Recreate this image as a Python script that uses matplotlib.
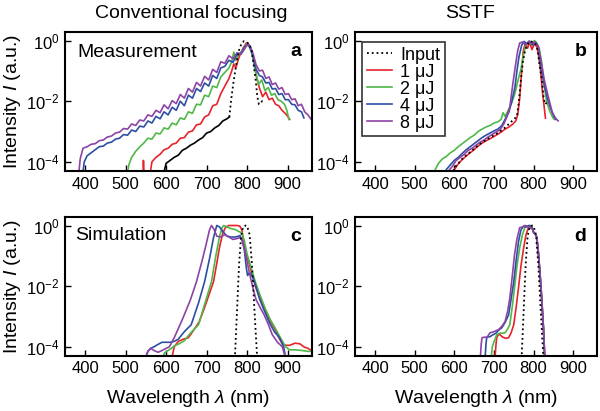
import matplotlib
matplotlib.use('Agg')
import matplotlib.pyplot as plt
import numpy as np

plt.rcParams['font.family'] = ['Liberation Sans', 'DejaVu Sans']
plt.rcParams['mathtext.fontset'] = 'custom'
plt.rcParams['mathtext.rm'] = 'Liberation Sans'
plt.rcParams['mathtext.it'] = 'Liberation Sans:italic'
plt.rcParams['mathtext.default'] = 'regular'

# Colours of the pulse energies
energies = ['1 μJ', '2 μJ', '4 μJ', '8 μJ']
colors = ['#e8232b', '#4fb848', '#2d4fa3', '#8c43a6']

# ---- (a) measurement, conventional focusing : wavelength (nm) / log10 intensity
a_in_solid_wl = [590, 600, 610, 620, 630, 640, 650, 660, 670, 680, 690, 700, 710, 720, 730, 740, 750, 756]
a_in_solid = [-4.6, -4.05, -3.95, -3.85, -3.78, -3.62, -3.55, -3.45, -3.38, -3.28, -3.2, -3.05, -3.0, -2.88, -2.8, -2.65, -2.58, -2.52]
a_in_dot_wl = [756, 761, 767, 773, 779, 786, 792, 798, 804, 811, 817, 821, 825, 829, 833, 837, 840]
a_in_dot = [-2.52, -1.9, -1.3, -0.8, -0.35, -0.1, -0.02, -0.05, -0.1, -0.3, -0.9, -1.3, -1.85, -2.1, -2.05, -2.0, -2.05]

a_1uj_wl = [543, 544, 546, 558, 565, 575, 585, 595, 605, 615, 625, 635, 645, 655, 665, 675, 685, 695, 705, 715,
            725, 735, 745, 755, 762, 767, 772, 780, 790, 798, 805, 812, 818, 824, 830, 838, 846, 854, 862, 870,
            878, 886, 894, 900, 905]
a_1uj = [-4.6, -3.95, -4.6, -4.6, -4.0, -3.85, -3.75, -3.6, -3.55, -3.42, -3.38, -3.22, -3.2, -3.02, -2.98, -2.78,
         -2.75, -2.52, -2.45, -2.15, -2.1, -1.75, -1.5, -1.25, -1.0, -0.77, -0.9, -0.55, -0.25, -0.08, -0.15, -0.4,
         -0.8, -1.25, -1.55, -1.85, -1.7, -1.95, -1.9, -2.1, -2.15, -2.3, -2.4, -2.5, -2.6]

a_2uj_wl = [502, 508, 515, 525, 535, 545, 555, 565, 575, 585, 595, 605, 615, 625, 635, 645, 655, 665, 675, 685,
            695, 705, 715, 725, 735, 745, 755, 762, 767, 772, 780, 790, 798, 805, 812, 820, 828, 836, 844, 852,
            860, 868, 876, 884, 892, 898, 903]
a_2uj = [-4.6, -4.1, -3.85, -3.65, -3.5, -3.38, -3.22, -3.25, -3.05, -3.08, -2.88, -2.92, -2.72, -2.78, -2.55, -2.6,
         -2.35, -2.4, -2.1, -2.12, -1.8, -1.85, -1.5, -1.55, -1.2, -1.05, -0.9, -0.7, -0.38, -0.65, -0.45, -0.3,
         -0.12, -0.2, -0.45, -1.0, -1.45, -1.3, -1.65, -1.55, -1.8, -1.75, -1.95, -2.0, -2.1, -2.3, -2.6]

a_4uj_wl = [392, 398, 405, 415, 425, 435, 445, 455, 465, 475, 485, 495, 505, 515, 525, 535, 545, 555, 565, 575,
            585, 595, 605, 615, 625, 635, 645, 655, 665, 675, 685, 695, 705, 715, 725, 735, 745, 755, 765, 775,
            785, 795, 802, 808, 815, 822, 830, 838, 846, 854, 862, 870, 878, 886, 894, 902, 910, 918, 926, 934, 940]
a_4uj = [-4.6, -4.0, -3.8, -3.7, -3.6, -3.5, -3.48, -3.38, -3.35, -3.25, -3.22, -3.1, -3.12, -2.95, -3.0, -2.82,
         -2.85, -2.65, -2.72, -2.5, -2.58, -2.35, -2.45, -2.2, -2.3, -2.0, -2.15, -1.8, -1.9, -1.58, -1.68, -1.4,
         -1.5, -1.15, -1.25, -0.9, -0.85, -0.65, -0.72, -0.45, -0.42, -0.2, -0.12, -0.25, -0.55, -0.95, -1.15,
         -1.2, -1.4, -1.38, -1.6, -1.58, -1.78, -1.75, -1.95, -1.95, -2.1, -2.12, -2.3, -2.35, -2.55]

a_8uj_wl = [383, 388, 395, 405, 415, 425, 435, 445, 455, 465, 475, 485, 495, 505, 515, 525, 535, 545, 555, 565,
            575, 585, 595, 605, 615, 625, 635, 645, 655, 665, 675, 685, 695, 705, 715, 725, 735, 745, 755, 765,
            775, 785, 795, 802, 808, 815, 822, 830, 838, 846, 854, 862, 870, 878, 886, 894, 902, 910, 918, 926,
            934, 942, 950, 958]
a_8uj = [-4.6, -3.9, -3.55, -3.5, -3.42, -3.4, -3.3, -3.28, -3.18, -3.15, -3.05, -3.02, -2.9, -2.92, -2.75, -2.8,
         -2.62, -2.65, -2.45, -2.5, -2.3, -2.38, -2.12, -2.25, -1.98, -2.08, -1.78, -1.9, -1.58, -1.7, -1.38, -1.5,
         -1.18, -1.3, -0.95, -1.05, -0.7, -0.75, -0.5, -0.6, -0.4, -0.45, -0.25, -0.1, -0.2, -0.45, -0.8, -1.0,
         -0.98, -1.25, -1.2, -1.45, -1.4, -1.6, -1.55, -1.78, -1.75, -1.95, -1.92, -2.15, -2.1, -2.35, -2.45, -2.6]

# ---- (b) measurement, SSTF
b_in_wl = [590, 600, 610, 620, 630, 640, 650, 660, 670, 680, 690, 700, 710, 720, 730, 740, 750, 758, 763, 768,
           773, 779, 786, 792, 798, 804, 810, 816, 821, 825, 829, 833]
b_in = [-4.6, -4.2, -4.05, -3.9, -3.78, -3.68, -3.57, -3.46, -3.36, -3.28, -3.2, -3.12, -3.05, -2.95, -2.85,
        -2.72, -2.6, -2.5, -2.0, -1.3, -0.7, -0.3, -0.1, -0.02, -0.05, -0.1, -0.3, -0.9, -1.3, -1.85, -2.1, -2.05]

b_1uj_wl = [588, 598, 608, 618, 628, 638, 648, 658, 668, 678, 688, 698, 708, 718, 728, 738, 748, 755, 760, 765,
            770, 774, 779, 785, 790, 796, 802, 808, 812, 817, 822, 826, 830]
b_1uj = [-4.6, -4.3, -4.1, -3.95, -3.83, -3.72, -3.62, -3.5, -3.4, -3.32, -3.25, -3.18, -3.1, -3.02, -2.92, -2.85,
         -2.75, -2.65, -2.45, -1.9, -1.0, -0.35, -0.1, -0.25, -0.05, -0.3, -0.1, -0.2, -0.45, -0.9, -1.64, -2.1, -2.56]

b_2uj_wl = [545, 552, 560, 570, 580, 590, 600, 610, 620, 630, 640, 650, 660, 670, 680, 690, 700, 710, 718, 723,
            728, 736, 745, 753, 760, 768, 775, 780, 788, 795, 802, 808, 815, 820, 827, 833, 840, 847, 852]
b_2uj = [-4.6, -4.25, -4.05, -3.9, -3.82, -3.7, -3.62, -3.5, -3.4, -3.3, -3.2, -3.12, -3.0, -2.92, -2.85, -2.8,
         -2.72, -2.68, -2.6, -2.38, -2.5, -2.3, -2.05, -1.74, -1.35, -0.95, -0.45, -0.15, -0.05, -0.12, 0.0, -0.08,
         -0.3, -0.7, -1.5, -2.0, -2.3, -2.5, -2.6]

b_4uj_wl = [570, 580, 590, 600, 610, 620, 630, 640, 650, 660, 670, 680, 690, 700, 710, 720, 730, 738, 745, 753,
            758, 763, 770, 776, 783, 790, 797, 805, 812, 818, 826, 834, 842, 851, 856]
b_4uj = [-4.6, -4.25, -4.1, -3.95, -3.85, -3.72, -3.6, -3.5, -3.4, -3.3, -3.2, -3.12, -3.05, -2.98, -2.92, -2.8,
         -2.55, -2.35, -2.0, -1.54, -1.0, -0.55, -0.15, -0.03, -0.1, -0.02, -0.15, -0.05, -0.2, -0.85, -1.4, -1.87,
         -2.2, -2.5, -2.6]

b_8uj_wl = [575, 585, 595, 605, 615, 625, 635, 645, 655, 665, 675, 685, 695, 705, 715, 725, 733, 740, 748, 754,
            760, 765, 772, 780, 788, 796, 804, 812, 818, 827, 837, 847, 855, 862]
b_8uj = [-4.6, -4.3, -4.15, -3.95, -3.85, -3.75, -3.62, -3.55, -3.45, -3.35, -3.28, -3.18, -3.1, -3.02, -2.95,
         -2.75, -2.5, -2.2, -1.4, -0.85, -0.33, -0.08, -0.05, -0.15, -0.02, -0.1, -0.05, -0.2, -0.6, -1.3, -1.85,
         -2.36, -2.55, -2.65]

# ---- (c, d) simulation input (same for both)
sim_in_wl = [765, 770, 775, 780, 785, 790, 796, 800, 806, 812, 818, 824, 830]
sim_in = [-5.5, -4.3, -2.8, -1.3, -0.35, -0.05, 0.0, -0.02, -0.3, -1.3, -2.8, -4.2, -5.5]

# ---- (c) simulation, conventional focusing
c_1uj_wl = [612, 620, 630, 642, 655, 668, 682, 695, 708, 717, 725, 732, 740, 747, 755, 765, 775, 782, 787, 792,
            798, 805, 812, 820, 832, 845, 857, 870, 880, 887, 895, 905, 918, 930, 940, 950, 962]
c_1uj = [-4.5, -4.0, -3.82, -3.75, -3.7, -3.45, -3.17, -2.7, -2.2, -1.85, -1.25, -0.7, -0.25, -0.05, 0.0, 0.0,
         0.0, -0.02, -0.15, -0.6, -0.95, -1.25, -1.6, -2.0, -2.4, -2.8, -3.15, -3.45, -3.75, -3.9, -3.95, -3.95,
         -3.88, -3.9, -4.0, -4.05, -4.15]

c_2uj_wl = [588, 596, 605, 613, 620, 632, 645, 660, 680, 695, 712, 722, 732, 738, 742, 750, 760, 770, 780, 787,
            793, 800, 810, 820, 832, 845, 857, 870, 882, 895, 905, 920, 935, 950, 962]
c_2uj = [-4.5, -4.2, -4.12, -4.05, -3.97, -3.9, -3.8, -3.55, -3.27, -2.6, -1.85, -1.05, -0.35, -0.08, 0.0, -0.05,
         -0.1, -0.13, -0.2, -0.25, -0.5, -0.95, -1.4, -1.85, -2.3, -2.75, -3.1, -3.4, -3.7, -4.0, -4.1, -4.1,
         -4.12, -4.15, -4.15]

c_4uj_wl = [545, 555, 562, 570, 580, 590, 600, 610, 620, 630, 645, 662, 680, 695, 707, 717, 725, 732, 740, 750,
            760, 770, 777, 782, 788, 793, 798, 801, 806, 812, 818, 830, 842, 855, 867, 880, 890, 897]
c_4uj = [-4.5, -4.15, -4.05, -4.0, -3.92, -3.85, -3.85, -3.85, -3.82, -3.75, -3.5, -3.27, -2.55, -1.85, -1.1, -0.4,
         0.0, -0.05, -0.2, -0.35, -0.38, -0.38, -0.36, -0.33, -0.5, -0.8, -1.4, -1.65, -1.55, -1.65, -1.85, -2.4,
         -2.8, -3.2, -3.5, -3.7, -4.0, -4.5]

c_8uj_wl = [547, 555, 562, 570, 580, 590, 600, 608, 620, 640, 660, 675, 690, 700, 707, 712, 718, 725, 735, 745,
            755, 765, 775, 782, 788, 793, 800, 807, 815, 822, 832, 842, 852, 862, 875, 887, 895]
c_8uj = [-4.5, -4.15, -4.05, -4.12, -4.18, -4.12, -4.05, -4.0, -3.7, -3.1, -2.45, -1.85, -1.1, -0.55, -0.15, 0.0,
         -0.12, -0.35, -0.38, -0.3, -0.38, -0.46, -0.43, -0.4, -0.5, -0.75, -1.2, -1.65, -2.1, -2.45, -2.7, -2.95,
         -3.25, -3.6, -3.85, -4.0, -4.4]

# ---- (d) simulation, SSTF
d_1uj_wl = [702, 705, 707, 711, 715, 722, 730, 737, 743, 750, 756, 762, 768, 775, 781, 787, 792, 796, 800, 805,
            808, 812, 816, 820, 825, 828, 832]
d_1uj = [-4.5, -3.95, -3.7, -3.6, -3.6, -3.68, -3.72, -3.7, -3.55, -3.27, -2.7, -2.05, -1.35, -0.73, -0.3, -0.07,
         0.0, -0.05, -0.22, -0.3, -0.38, -0.88, -1.55, -2.3, -3.4, -4.3, -5.0]

d_2uj_wl = [692, 696, 700, 707, 715, 722, 728, 735, 740, 746, 752, 758, 765, 772, 778, 785, 790, 796, 800, 805,
            808, 812, 816, 820, 825, 828, 832]
d_2uj = [-4.5, -4.0, -3.84, -3.6, -3.55, -3.55, -3.54, -3.4, -3.27, -2.7, -2.05, -1.35, -0.73, -0.3, -0.07, -0.02,
         0.0, -0.05, -0.22, -0.3, -0.38, -0.88, -1.55, -2.3, -3.4, -4.3, -5.0]

d_4uj_wl = [677, 680, 682, 690, 695, 705, 712, 720, 728, 737, 743, 750, 756, 762, 768, 775, 782, 788, 795, 800,
            805, 808, 812, 816, 820, 825, 828, 832]
d_4uj = [-4.5, -3.9, -3.67, -3.67, -3.62, -3.55, -3.45, -3.37, -3.2, -2.95, -2.45, -1.85, -1.15, -0.53, -0.15,
         -0.02, -0.05, 0.0, -0.05, -0.22, -0.3, -0.38, -0.88, -1.55, -2.3, -3.4, -4.3, -5.0]

d_8uj_wl = [665, 668, 670, 676, 682, 690, 700, 712, 720, 728, 735, 740, 746, 752, 758, 765, 772, 778, 784, 790,
            795, 800, 805, 808, 812, 816, 820, 825, 828, 832]
d_8uj = [-4.5, -3.9, -3.7, -3.68, -3.7, -3.54, -3.5, -3.43, -3.32, -3.17, -2.8, -2.4, -1.7, -0.96, -0.45, -0.07,
         -0.05, 0.0, -0.02, -0.1, -0.05, -0.24, -0.3, -0.38, -0.88, -1.55, -2.3, -3.4, -4.3, -5.0]

xticks = [400, 500, 600, 700, 800, 900]

fig = plt.figure(figsize=(6, 4.11), dpi=100)
ax_a = fig.add_axes([0.108, 0.584, 0.412, 0.338])
ax_b = fig.add_axes([0.592, 0.584, 0.403, 0.338])
ax_c = fig.add_axes([0.108, 0.134, 0.412, 0.338])
ax_d = fig.add_axes([0.592, 0.134, 0.403, 0.338])


def lg(v):
    return 10.0 ** np.array(v)


# a
for wl, val, col in zip([a_1uj_wl, a_2uj_wl, a_4uj_wl, a_8uj_wl], [a_1uj, a_2uj, a_4uj, a_8uj], colors):
    ax_a.plot(wl, lg(val), color=col, lw=1.2)
ax_a.plot(a_in_solid_wl, lg(a_in_solid), color='k', lw=1.2, zorder=5)
ax_a.plot(a_in_dot_wl, lg(a_in_dot), color='k', lw=1.3, ls=':', zorder=5)

# b
ax_b.plot(b_in_wl, lg(b_in), color='k', lw=1.3, ls=':', zorder=5, label='Input')
for wl, val, col, lab in zip([b_1uj_wl, b_2uj_wl, b_4uj_wl, b_8uj_wl], [b_1uj, b_2uj, b_4uj, b_8uj], colors, energies):
    ax_b.plot(wl, lg(val), color=col, lw=1.2, label=lab)

# c
for wl, val, col in zip([c_1uj_wl, c_2uj_wl, c_4uj_wl, c_8uj_wl], [c_1uj, c_2uj, c_4uj, c_8uj], colors):
    ax_c.plot(wl, lg(val), color=col, lw=1.2)
ax_c.plot(sim_in_wl, lg(sim_in), color='k', lw=1.3, ls=':', zorder=5)

# d
for wl, val, col in zip([d_1uj_wl, d_2uj_wl, d_4uj_wl, d_8uj_wl], [d_1uj, d_2uj, d_4uj, d_8uj], colors):
    ax_d.plot(wl, lg(val), color=col, lw=1.2)
ax_d.plot(sim_in_wl, lg(sim_in), color='k', lw=1.3, ls=':', zorder=5)

for ax in [ax_a, ax_b, ax_c, ax_d]:
    ax.set_yscale('log')
    ax.set_xlim(350, 960)
    ax.set_ylim(10 ** -4.3, 10 ** 0.28)
    ax.set_xticks(xticks)
    ax.set_yticks([1e-4, 1e-2, 1])
    ax.yaxis.set_minor_locator(matplotlib.ticker.NullLocator())
    ax.tick_params(direction='in', length=4, width=1, labelsize=12, pad=4)
    for sp in ax.spines.values():
        sp.set_linewidth(1.5)

ax_a.text(0.05, 0.855, 'Measurement', transform=ax_a.transAxes, fontsize=14, va='center')
ax_c.text(0.04, 0.865, 'Simulation', transform=ax_c.transAxes, fontsize=14, va='center')
for ax, lab in zip([ax_a, ax_b, ax_c, ax_d], ['a', 'b', 'c', 'd']):
    ax.text(0.955, 0.86, lab, transform=ax.transAxes, fontsize=14, fontweight='bold', ha='right', va='center')

ax_a.set_ylabel('Intensity $\\mathit{I}$ (a.u.)', fontsize=14)
ax_c.set_ylabel('Intensity $\\mathit{I}$ (a.u.)', fontsize=14)
ax_a.yaxis.set_label_coords(-0.168, 0.5)
ax_c.yaxis.set_label_coords(-0.168, 0.5)
ax_c.set_xlabel('Wavelength $\\mathit{\\lambda}$ (nm)', fontsize=14)
ax_d.set_xlabel('Wavelength $\\mathit{\\lambda}$ (nm)', fontsize=14)
ax_c.xaxis.set_label_coords(0.5, -0.23)
ax_d.xaxis.set_label_coords(0.5, -0.23)

fig.text(191 / 600, 1 - 13 / 411, 'Conventional focusing', fontsize=14, ha='center', va='center')
fig.text(470 / 600, 1 - 13 / 411, 'SSTF', fontsize=14, ha='center', va='center')

leg = ax_b.legend(loc='upper left', bbox_to_anchor=(0.029, 0.928), borderaxespad=0, fontsize=13,
                  frameon=True, fancybox=False, edgecolor='k', handlelength=1.4, handletextpad=0.45,
                  labelspacing=0.0, borderpad=0.25)
leg.get_frame().set_linewidth(1.2)

fig.savefig('out.png', dpi=100)
